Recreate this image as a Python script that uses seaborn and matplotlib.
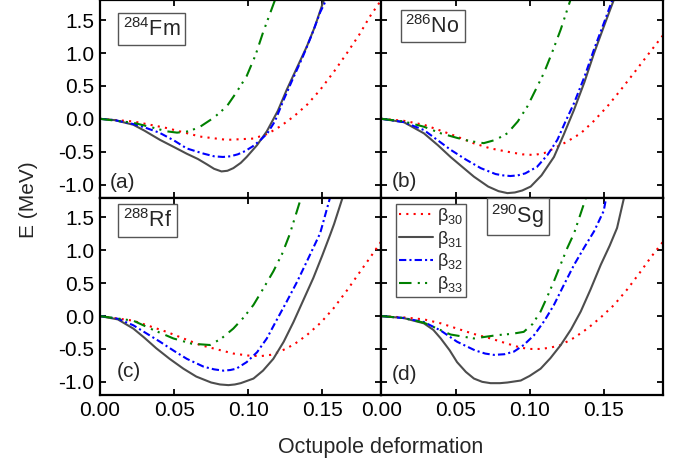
import numpy as np
import pandas as pd
import matplotlib
matplotlib.use("Agg")
import matplotlib.pyplot as plt
import seaborn as sns

# Potential energy curves: E (MeV) vs octupole deformation
# (a) 284Fm
a_b30_x = [0, 0.0225, 0.045, 0.0676, 0.0856, 0.1036, 0.113, 0.122, 0.131, 0.14, 0.1486, 0.158, 0.1667, 0.175, 0.182, 0.189]
a_b30_y = [0, -0.04, -0.14, -0.27, -0.32, -0.30, -0.23, -0.11, 0.04, 0.22, 0.44, 0.72, 1.00, 1.28, 1.55, 1.78]
a_b31_x = [0, 0.01, 0.0225, 0.03, 0.0405, 0.05, 0.0585, 0.066, 0.072, 0.077, 0.082, 0.086, 0.09, 0.095, 0.099, 0.106, 0.1126, 0.12, 0.126, 0.133, 0.1396, 0.145, 0.151]
a_b31_y = [0, -0.02, -0.09, -0.18, -0.32, -0.43, -0.53, -0.61, -0.69, -0.76, -0.80, -0.79, -0.75, -0.67, -0.58, -0.40, -0.19, 0.12, 0.44, 0.78, 1.10, 1.40, 1.80]
a_b32_x = [0, 0.01, 0.0225, 0.03, 0.04, 0.05, 0.0585, 0.07, 0.077, 0.083, 0.088, 0.093, 0.098, 0.103, 0.108, 0.113, 0.118, 0.124, 0.13, 0.137, 0.143, 0.1486, 0.1525]
a_b32_y = [0, -0.02, -0.08, -0.13, -0.21, -0.33, -0.45, -0.53, -0.57, -0.58, -0.57, -0.54, -0.49, -0.42, -0.33, -0.22, -0.04, 0.29, 0.60, 0.95, 1.28, 1.62, 1.80]
a_b33_x = [0, 0.0225, 0.035, 0.045, 0.052, 0.06, 0.0676, 0.077, 0.0856, 0.092, 0.099, 0.105, 0.110, 0.118]
a_b33_y = [0, -0.06, -0.13, -0.19, -0.21, -0.19, -0.12, 0.02, 0.19, 0.40, 0.65, 0.97, 1.31, 1.80]

# (b) 286No
b_b30_x = [0, 0.015, 0.0286, 0.04, 0.051, 0.062, 0.0736, 0.085, 0.095, 0.103, 0.11, 0.1164, 0.125, 0.1345, 0.143, 0.1525, 0.1615, 0.1705, 0.18, 0.19]
b_b30_y = [0, -0.03, -0.09, -0.18, -0.27, -0.37, -0.45, -0.50, -0.54, -0.55, -0.52, -0.45, -0.35, -0.22, -0.04, 0.19, 0.44, 0.70, 0.98, 1.27]
b_b31_x = [0, 0.015, 0.0286, 0.038, 0.0466, 0.055, 0.0624, 0.072, 0.079, 0.085, 0.09, 0.095, 0.1007, 0.108, 0.1164, 0.123, 0.130, 0.137, 0.1435, 0.150, 0.157]
b_b31_y = [0, -0.05, -0.22, -0.40, -0.58, -0.74, -0.88, -1.03, -1.10, -1.13, -1.12, -1.09, -1.03, -0.86, -0.58, -0.24, 0.14, 0.56, 1.00, 1.40, 1.82]
b_b32_x = [0, 0.015, 0.0286, 0.0466, 0.057, 0.067, 0.077, 0.082, 0.087, 0.092, 0.097, 0.105, 0.112, 0.1187, 0.124, 0.130, 0.137, 0.1435, 0.150, 0.156]
b_b32_y = [0, -0.05, -0.17, -0.47, -0.62, -0.75, -0.84, -0.86, -0.87, -0.86, -0.83, -0.73, -0.55, -0.32, -0.05, 0.24, 0.64, 1.06, 1.45, 1.82]
b_b33_x = [0, 0.015, 0.0286, 0.04, 0.051, 0.06, 0.069, 0.077, 0.085, 0.092, 0.0985, 0.104, 0.1097, 0.115, 0.121, 0.1277]
b_b33_y = [0, -0.04, -0.12, -0.22, -0.29, -0.34, -0.37, -0.32, -0.22, -0.04, 0.19, 0.44, 0.70, 1.00, 1.36, 1.82]

# (c) 288Rf
c_b30_x = [0, 0.0225, 0.045, 0.0676, 0.0901, 0.1, 0.108, 0.115, 0.1216, 0.131, 0.1396, 0.149, 0.1577, 0.167, 0.1757, 0.182, 0.19]
c_b30_y = [0, -0.07, -0.24, -0.44, -0.57, -0.60, -0.61, -0.59, -0.54, -0.43, -0.29, -0.10, 0.12, 0.40, 0.68, 0.88, 1.14]
c_b31_x = [0, 0.012, 0.0225, 0.03, 0.038, 0.047, 0.0563, 0.065, 0.075, 0.081, 0.0867, 0.091, 0.095, 0.1036, 0.110, 0.117, 0.124, 0.1306, 0.137, 0.144, 0.150, 0.1554, 0.158, 0.164]
c_b31_y = [0, -0.05, -0.19, -0.33, -0.49, -0.65, -0.80, -0.92, -1.01, -1.04, -1.05, -1.04, -1.02, -0.95, -0.83, -0.65, -0.39, -0.09, 0.23, 0.58, 0.92, 1.24, 1.40, 1.82]
c_b32_x = [0, 0.012, 0.0225, 0.0405, 0.05, 0.0586, 0.07, 0.077, 0.0833, 0.088, 0.092, 0.099, 0.106, 0.1126, 0.119, 0.126, 0.133, 0.1396, 0.1486, 0.1555]
c_b32_y = [0, -0.04, -0.14, -0.39, -0.53, -0.65, -0.77, -0.81, -0.83, -0.82, -0.80, -0.70, -0.55, -0.34, -0.07, 0.22, 0.52, 0.83, 1.26, 1.82]
c_b33_x = [0, 0.0225, 0.035, 0.0495, 0.062, 0.0743, 0.082, 0.090, 0.097, 0.1036, 0.110, 0.117, 0.123, 0.128, 0.136]
c_b33_y = [0, -0.07, -0.20, -0.34, -0.42, -0.44, -0.34, -0.19, -0.02, 0.17, 0.41, 0.68, 0.95, 1.24, 1.82]

# (d) 290Sg
d_b30_x = [0, 0.015, 0.0286, 0.04, 0.051, 0.062, 0.0736, 0.085, 0.094, 0.1, 0.1074, 0.114, 0.121, 0.13, 0.139, 0.148, 0.157, 0.166, 0.175, 0.182, 0.19]
d_b30_y = [0, -0.02, -0.05, -0.11, -0.19, -0.27, -0.34, -0.42, -0.48, -0.50, -0.50, -0.48, -0.44, -0.33, -0.19, -0.02, 0.17, 0.41, 0.68, 0.90, 1.13]
d_b31_x = [0, 0.015, 0.0286, 0.035, 0.040, 0.046, 0.051, 0.057, 0.0624, 0.068, 0.0736, 0.08, 0.085, 0.094, 0.1, 0.1074, 0.114, 0.121, 0.128, 0.1345, 0.141, 0.148, 0.154, 0.159, 0.1637]
d_b31_y = [0, -0.03, -0.11, -0.21, -0.34, -0.52, -0.70, -0.85, -0.95, -1.00, -1.02, -1.02, -1.01, -0.98, -0.91, -0.80, -0.64, -0.44, -0.20, 0.07, 0.40, 0.78, 1.07, 1.34, 1.80]
d_b32_x = [0, 0.015, 0.0286, 0.04, 0.051, 0.063, 0.07, 0.0759, 0.083, 0.0894, 0.096, 0.103, 0.110, 0.1164, 0.123, 0.130, 0.137, 0.1435, 0.150, 0.1514]
d_b32_y = [0, -0.03, -0.09, -0.22, -0.39, -0.52, -0.57, -0.59, -0.58, -0.54, -0.44, -0.29, -0.07, 0.17, 0.47, 0.78, 1.05, 1.29, 1.60, 1.77]
d_b33_x = [0, 0.015, 0.0286, 0.0466, 0.0624, 0.078, 0.088, 0.096, 0.102, 0.1074, 0.112, 0.1164, 0.121, 0.1255, 0.130, 0.138]
d_b33_y = [0, -0.03, -0.10, -0.28, -0.34, -0.29, -0.27, -0.24, -0.12, 0.07, 0.30, 0.53, 0.79, 1.04, 1.26, 1.80]

nuclei = ["$^{284}$Fm", "$^{286}$No", "$^{288}$Rf", "$^{290}$Sg"]
panel_tags = ["(a)", "(b)", "(c)", "(d)"]
curve_labels = ["β$_{30}$", "β$_{31}$", "β$_{32}$", "β$_{33}$"]
xticks = [0.00, 0.05, 0.10, 0.15]
yticks = [-1.0, -0.5, 0.0, 0.5, 1.0, 1.5]

panels = [
    [(a_b30_x, a_b30_y), (a_b31_x, a_b31_y), (a_b32_x, a_b32_y), (a_b33_x, a_b33_y)],
    [(b_b30_x, b_b30_y), (b_b31_x, b_b31_y), (b_b32_x, b_b32_y), (b_b33_x, b_b33_y)],
    [(c_b30_x, c_b30_y), (c_b31_x, c_b31_y), (c_b32_x, c_b32_y), (c_b33_x, c_b33_y)],
    [(d_b30_x, d_b30_y), (d_b31_x, d_b31_y), (d_b32_x, d_b32_y), (d_b33_x, d_b33_y)],
]

colors = ["#ff0000", "#4d4d4d", "#0000ff", "#008000"]
styles = [(0, (1, 2.5)), "-", (0, (3.5, 1.5, 1, 1.5)), (0, (6, 3, 1, 2.5, 1, 3))]

sns.set_theme(style="ticks")
plt.rcParams["font.family"] = ["Liberation Sans", "DejaVu Sans"]
plt.rcParams["mathtext.fontset"] = "custom"
plt.rcParams["mathtext.rm"] = "Liberation Sans"
plt.rcParams["mathtext.it"] = "Liberation Sans:italic"
plt.rcParams["xtick.direction"] = "in"
plt.rcParams["ytick.direction"] = "in"

fig, axes = plt.subplots(2, 2, figsize=(6.83, 4.69), dpi=100, sharex=True, sharey=True)
fig.subplots_adjust(left=0.1464, right=0.9707, top=0.999, bottom=0.1578, wspace=0, hspace=0)

# positions of the nucleus boxes and panel tags (axes fraction)
box_pos = [(0.08, 0.855), (0.085, 0.87), (0.08, 0.885), (0.39, 0.905)]
tag_pos = [(0.035, 0.075), (0.035, 0.08), (0.06, 0.12), (0.035, 0.105)]

for i, ax in enumerate(axes.flat):
    for j, (bx, by) in enumerate(panels[i]):
        sns.lineplot(x=bx, y=by, ax=ax, color=colors[j], linestyle=styles[j],
                     linewidth=1.5, label=curve_labels[j], estimator=None, sort=False)
    leg = ax.get_legend()
    if leg is not None:
        leg.remove()
    ax.set_xlim(0, 0.19)
    ax.set_ylim(-1.2, 1.8)
    ax.set_xticks(xticks)
    ax.set_yticks(yticks)
    ax.tick_params(which="both", top=True, right=True, length=4, width=1.3,
                   labelsize=15, colors="black", pad=4)
    for sp in ax.spines.values():
        sp.set_linewidth(1.6)
        sp.set_color("black")
    ax.set_xlabel("")
    ax.set_ylabel("")
    ax.text(box_pos[i][0], box_pos[i][1], nuclei[i], transform=ax.transAxes,
            fontsize=15.5, va="center", ha="left",
            bbox=dict(boxstyle="square,pad=0.22", fc="white", ec="#555555", lw=1.0))
    ax.text(tag_pos[i][0], tag_pos[i][1], panel_tags[i], transform=ax.transAxes,
            fontsize=15, va="center", ha="left")

axes[0, 0].xaxis.set_major_formatter(plt.FormatStrFormatter("%.2f"))
axes[0, 0].yaxis.set_major_formatter(plt.FormatStrFormatter("%.1f"))

h, l = axes[1, 1].get_legend_handles_labels()
lg = axes[1, 1].legend(h, l, loc="upper left", bbox_to_anchor=(0.053, 0.97), fontsize=13,
                       frameon=True, fancybox=False, edgecolor="#555555", framealpha=1,
                       handlelength=1.9, handletextpad=0.25, labelspacing=0.1,
                       borderpad=0.12, borderaxespad=0)
lg.get_frame().set_linewidth(1.0)

fig.text(0.041, 0.575, "E (MeV)", rotation=90, fontsize=15, ha="center", va="center")
fig.text(0.558, 0.045, "Octupole deformation", fontsize=15.5, ha="center", va="center")

fig.savefig("out.png", dpi=100)
